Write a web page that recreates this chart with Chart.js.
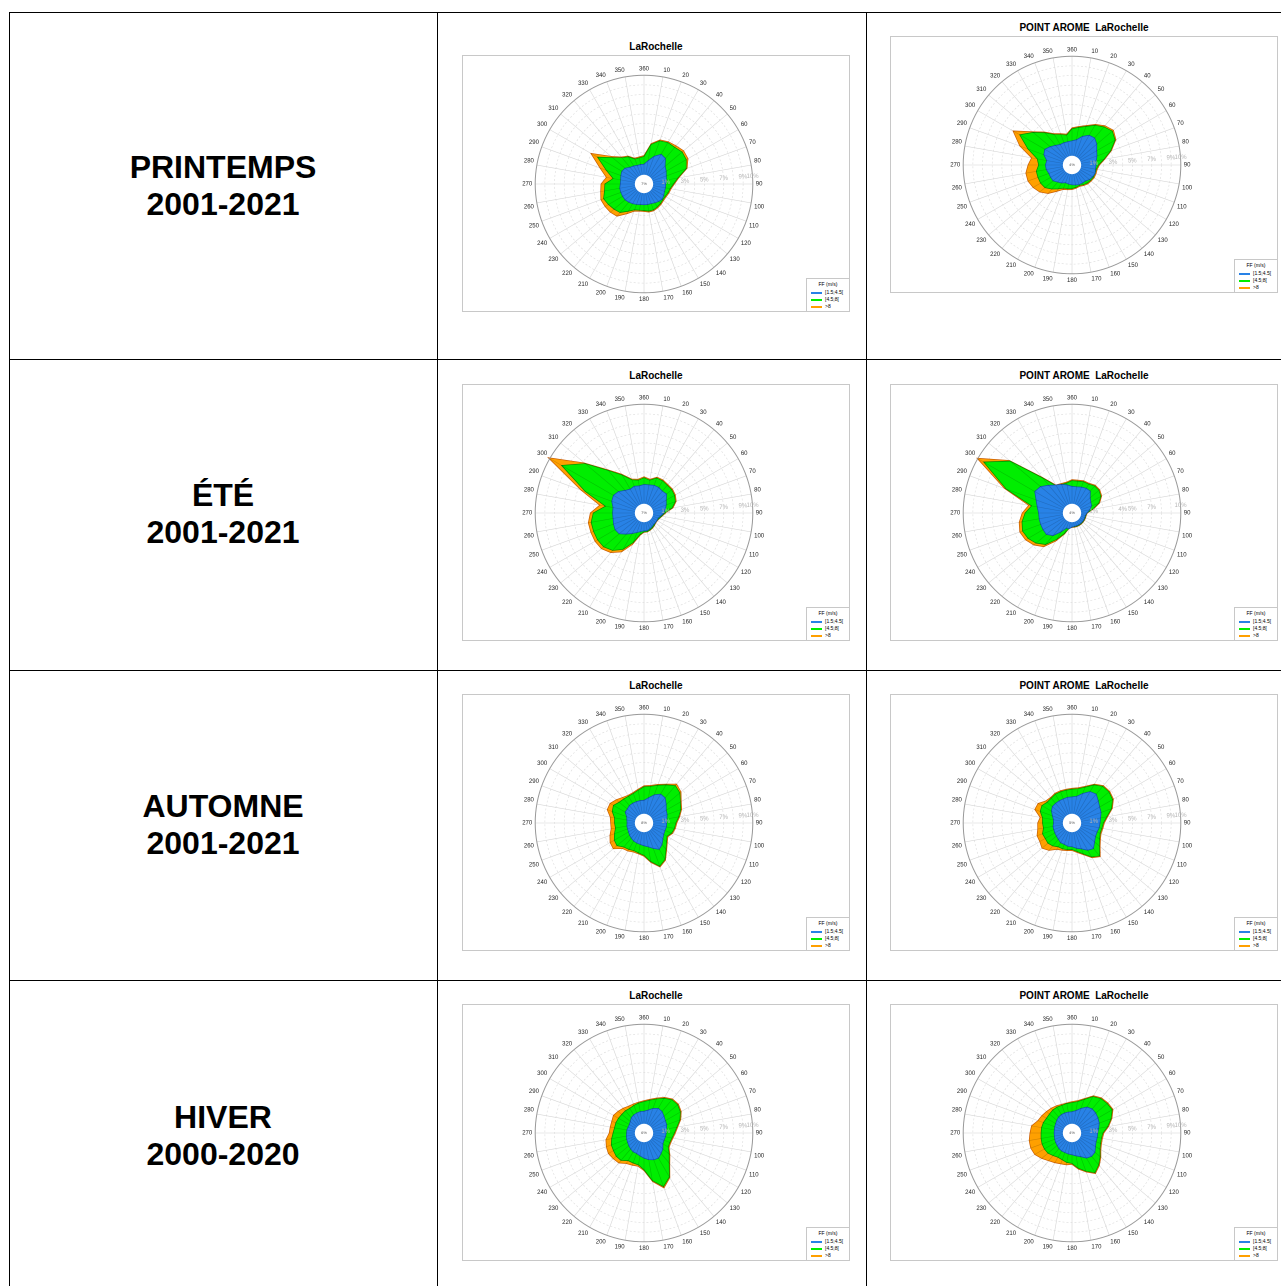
<!DOCTYPE html>
<html>
<head>
<meta charset="utf-8">
<script src="https://cdn.jsdelivr.net/npm/chart.js@4.4.1/dist/chart.umd.min.js"></script>
<style>
  body { margin:0; background:#fff; font-family:"Liberation Sans", Arial, sans-serif; width:1281px; height:1286px; overflow:hidden; position:relative; }
  .line { position:absolute; background:#000; }
  .season { position:absolute; left:9px; width:428px; text-align:center; font-weight:bold; font-size:32px; line-height:37px; }
  .title { position:absolute; width:388px; text-align:center; font-weight:bold; font-size:10px; white-space:pre; }
  .box { position:absolute; width:386px; height:255px; border:1px solid #c8c8c8; }
  .box canvas { position:absolute; left:0; top:0; }
  .legend { position:absolute; right:0; bottom:0; width:42px; height:32px; border:1px solid #c8c8c8; border-right:none; border-bottom:none; font-size:5px; background:#fff; }
  .legend .hd { text-align:center; margin-top:2px; margin-bottom:2px; }
  .legend .it { height:7px; line-height:7px; padding-left:4px; }
  .legend .it span { display:inline-block; width:11px; height:2px; vertical-align:middle; margin-right:3px; }
</style>
</head>
<body>
<script>
// directions 0..350 every 10 deg, values are cumulative frequencies (%)
const directions = [];
for (let d = 0; d < 360; d += 10) directions.push(d == 0 ? '360' : String(d));

// printemps - station
const printempsObsBlue = [0.8,1.2,1.8,2.3,2.2,1.6,1.4,1.2,1.1,1.0,1.0,1.0,1.1,1.2,1.1,1.0,0.9,0.9,0.9,0.9,1.0,1.1,1.2,1.3,1.3,1.3,1.3,1.2,1.2,1.3,1.4,1.3,1.0,0.9,0.8,0.8];
const printempsObsGreen = [1.6,2.9,3.5,3.7,3.7,3.9,3.8,3.4,2.3,1.8,1.5,1.4,1.3,1.3,1.4,1.5,1.6,1.6,1.5,1.5,1.6,2.0,2.6,2.8,3.0,3.2,2.9,2.8,2.0,2.9,4.3,3.0,2.3,2.0,1.5,1.5];
const printempsObsOrange = [1.7,3.0,3.6,3.8,3.9,4.1,4.0,3.5,2.4,1.9,1.6,1.5,1.4,1.4,1.5,1.6,1.7,1.7,1.6,1.6,1.75,2.3,3.1,3.3,3.4,3.5,3.3,3.2,2.7,3.6,5.1,3.2,2.4,2.1,1.6,1.6];
// printemps - AROME
const printempsModBlue = [1.25,1.4,1.9,2.3,2.4,2.1,1.7,1.5,1.3,1.25,1.2,1.3,1.2,1.1,0.9,0.9,0.9,0.85,0.8,0.75,0.7,0.9,1.05,1.3,1.3,1.3,1.45,1.5,1.4,1.85,2.0,1.7,1.4,1.2,1.2,1.2];
const printempsModGreen = [2.5,2.7,3.0,3.5,3.9,4.2,3.9,3.0,2.1,1.5,1.3,1.3,1.3,1.25,1.2,1.1,1.0,1.1,1.2,1.25,1.3,1.6,2.0,2.4,2.5,2.5,2.5,2.2,2.4,3.6,5.0,4.0,3.1,2.4,2.1,1.9];
const printempsModOrange = [2.6,2.8,3.1,3.6,4.05,4.35,4.0,3.1,2.2,1.6,1.4,1.4,1.4,1.35,1.3,1.2,1.1,1.2,1.3,1.35,1.45,1.9,2.6,3.1,3.4,3.6,3.6,3.3,3.0,4.5,5.8,4.1,3.2,2.5,2.2,2.0];
// ete - station
const eteObsBlue = [1.7,1.7,1.8,1.8,1.7,1.8,1.4,1.2,1.0,0.8,0.5,0.3,0.3,0.3,0.3,0.4,0.5,0.6,0.6,0.7,0.9,1.2,1.6,2.1,2.2,2.1,2.0,2.0,2.0,2.3,2.4,2.2,1.8,1.6,1.7,1.6];
const eteObsGreen = [2.4,2.2,2.6,2.6,2.5,2.5,2.4,2.2,1.7,0.9,0.6,0.4,0.3,0.3,0.4,0.5,0.6,0.7,0.7,1.0,2.0,3.1,3.8,4.2,4.3,4.3,4.3,4.0,2.8,5.2,8.6,6.7,4.5,3.3,2.4,2.2];
const eteObsOrange = [2.5,2.3,2.7,2.7,2.6,2.6,2.5,2.3,1.8,1.0,0.65,0.45,0.35,0.35,0.45,0.55,0.65,0.75,0.75,1.1,2.2,3.4,4.1,4.5,4.6,4.6,4.6,4.3,3.4,5.7,10.2,6.8,4.6,3.4,2.5,2.3];
// ete - AROME
const eteModBlue = [1.5,1.5,1.6,1.7,1.7,1.2,1.0,0.9,0.6,0.3,0.15,0.15,0.15,0.15,0.15,0.15,0.15,0.15,0.2,0.4,0.4,1.0,1.8,2.2,2.2,2.2,2.2,2.2,2.4,2.7,3.2,3.0,2.5,2.1,1.9,1.7];
const eteModGreen = [2.1,2.1,2.2,2.2,2.4,2.4,2.2,1.7,0.9,0.3,0.2,0.2,0.2,0.2,0.2,0.2,0.2,0.2,0.2,0.3,1.0,1.9,3.0,3.6,4.0,4.2,4.0,3.6,3.0,6.0,9.3,7.1,3.5,2.0,1.9,1.9];
const eteModOrange = [2.2,2.2,2.3,2.3,2.5,2.5,2.3,1.8,1.0,0.35,0.25,0.25,0.25,0.25,0.25,0.25,0.25,0.25,0.25,0.35,1.1,2.1,3.3,3.9,4.3,4.5,4.3,3.9,3.3,6.2,10.1,7.2,3.6,2.1,2.0,2.0];
// automne - station
const automneObsBlue = [1.1,1.4,1.85,2.2,2.15,1.75,1.4,1.3,1.15,1.1,1.1,1.05,1.1,1.3,1.65,1.9,1.55,1.25,1.1,1.0,0.95,0.9,0.8,0.7,0.6,0.55,0.55,0.5,0.55,0.65,1.0,1.0,1.1,1.1,1.1,1.1];
const automneObsGreen = [2.5,2.6,2.9,3.3,3.8,3.6,3.1,2.8,2.4,2.05,1.95,1.8,1.5,1.8,2.3,3.1,3.5,2.8,2.1,1.9,1.8,1.9,2.0,2.4,2.3,2.0,1.75,1.8,1.85,2.25,2.4,2.1,2.0,1.95,2.0,2.2];
const automneObsOrange = [2.6,2.7,3.0,3.4,4.0,3.75,3.2,2.9,2.5,2.15,2.05,1.9,1.6,1.9,2.4,3.2,3.6,2.9,2.2,2.0,1.95,2.1,2.2,2.9,2.8,2.5,2.2,2.2,2.3,2.8,2.8,2.5,2.2,2.05,2.1,2.3];
// automne - AROME
const automneModBlue = [1.45,1.55,2.0,2.5,2.65,2.3,2.05,1.95,1.75,1.65,1.6,1.5,1.55,1.8,2.2,2.0,1.6,1.4,1.2,1.2,1.1,1.1,0.95,0.85,0.8,0.75,0.75,0.65,0.7,0.9,1.2,1.4,1.4,1.4,1.4,1.45];
const automneModGreen = [2.25,2.35,2.7,3.3,3.7,3.75,3.6,3.1,2.4,2.0,1.9,1.85,2.05,2.45,3.2,2.8,2.15,1.75,1.5,1.55,1.6,1.6,1.85,2.0,1.95,2.0,1.75,1.8,1.85,2.25,2.35,2.1,2.1,2.2,2.2,2.2];
const automneModOrange = [2.35,2.45,2.8,3.4,3.8,3.85,3.7,3.2,2.5,2.1,2.0,1.95,2.15,2.55,3.3,2.9,2.25,1.85,1.6,1.65,1.75,1.9,2.45,2.8,2.6,2.6,2.35,2.3,2.1,2.85,2.8,2.3,2.2,2.3,2.3,2.3];
// hiver - station
const hiverObsBlue = [1.0,1.15,1.45,1.7,1.65,1.45,1.3,1.25,1.1,1.05,1.0,0.95,1.0,1.3,1.5,1.75,1.7,1.55,1.35,1.15,1.0,1.0,0.9,0.8,0.7,0.65,0.6,0.55,0.55,0.5,0.5,0.6,0.8,0.9,0.95,1.0];
const hiverObsGreen = [2.0,2.2,2.5,2.9,3.25,3.3,3.1,2.7,2.2,1.9,1.7,1.6,1.65,2.15,2.8,4.0,4.65,3.75,2.55,2.1,2.05,2.05,2.45,2.5,2.4,2.35,2.15,1.95,1.85,1.85,1.8,1.75,1.75,1.7,1.8,1.9];
const hiverObsOrange = [2.1,2.3,2.6,3.0,3.35,3.4,3.2,2.8,2.3,2.0,1.8,1.7,1.75,2.25,2.9,4.1,4.8,3.85,2.65,2.25,2.3,2.4,2.8,2.9,3.0,2.9,2.75,2.35,2.3,2.3,2.4,2.25,2.1,1.95,1.95,2.0];
// hiver - AROME
const hiverModBlue = [0.95,1.1,1.45,1.85,2.0,1.95,1.85,1.75,1.55,1.4,1.4,1.4,1.55,1.85,1.9,1.75,1.35,1.15,1.0,0.95,0.9,0.9,0.85,0.75,0.7,0.65,0.6,0.6,0.6,0.65,0.7,0.8,0.9,0.95,0.95,0.95];
const hiverModGreen = [1.9,2.05,2.45,3.1,3.4,3.5,3.55,3.05,2.5,1.95,1.85,1.9,2.1,2.55,3.05,3.5,2.95,2.45,1.9,1.85,1.7,1.65,1.8,2.0,2.05,2.05,2.0,1.95,1.95,1.9,1.8,1.8,1.85,1.85,1.8,1.85];
const hiverModOrange = [2.0,2.15,2.55,3.2,3.5,3.6,3.65,3.15,2.6,2.05,1.95,2.0,2.2,2.65,3.15,3.6,3.05,2.55,2.0,2.1,2.15,2.3,2.5,2.85,3.2,3.3,3.25,3.1,3.0,2.5,2.35,2.2,2.1,2.0,1.9,1.9];

const seasons = ['PRINTEMPS', 'ÉTÉ', 'AUTOMNE', 'HIVER'];
const periods = ['2001-2021', '2001-2021', '2001-2021', '2000-2020'];
const ringLabels = [1, 3, 5, 7, 9, 10];
const ringLabelsEteMod = [1, 4, 5, 7, 10];
const legendLabels = ['[1.5;4.5[', '[4.5;8[', '>8'];

const charts = [
  {id:'c1', title:'LaRochelle', x:462, y:55, d:[printempsObsBlue, printempsObsGreen, printempsObsOrange], hole:'7%', rings:ringLabels},
  {id:'c2', title:'POINT AROME  LaRochelle', x:890, y:36, d:[printempsModBlue, printempsModGreen, printempsModOrange], hole:'4%', rings:ringLabels},
  {id:'c3', title:'LaRochelle', x:462, y:384, d:[eteObsBlue, eteObsGreen, eteObsOrange], hole:'7%', rings:ringLabels},
  {id:'c4', title:'POINT AROME  LaRochelle', x:890, y:384, d:[eteModBlue, eteModGreen, eteModOrange], hole:'4%', rings:ringLabelsEteMod},
  {id:'c5', title:'LaRochelle', x:462, y:694, d:[automneObsBlue, automneObsGreen, automneObsOrange], hole:'8%', rings:ringLabels},
  {id:'c6', title:'POINT AROME  LaRochelle', x:890, y:694, d:[automneModBlue, automneModGreen, automneModOrange], hole:'5%', rings:ringLabels},
  {id:'c7', title:'LaRochelle', x:462, y:1004, d:[hiverObsBlue, hiverObsGreen, hiverObsOrange], hole:'6%', rings:ringLabels},
  {id:'c8', title:'POINT AROME  LaRochelle', x:890, y:1004, d:[hiverModBlue, hiverModGreen, hiverModOrange], hole:'4%', rings:ringLabels}
];

const fillColors = ['rgb(40,130,230)', 'rgb(0,238,0)', 'rgb(255,160,0)'];
const lineColors = ['rgb(20,80,170)', 'rgb(0,140,0)', 'rgb(200,90,0)'];

// table frame
function addLine(l, t, w, h){
  let d = document.createElement('div');
  d.className = 'line';
  d.style.cssText = `left:${l}px;top:${t}px;width:${w}px;height:${h}px`;
  document.body.appendChild(d);
}
[12, 359, 670, 980].forEach(y => addLine(9, y, 1272, 1));
[9, 437, 866].forEach(x => addLine(x, 12, 1, 1274));

const rowMid = [186, 514, 825, 1136];
seasons.forEach((s, i) => {
  let d = document.createElement('div');
  d.className = 'season';
  d.style.top = (rowMid[i] - 37) + 'px';
  d.innerHTML = s + '<br>' + periods[i];
  document.body.appendChild(d);
});

// plugin drawing the hole, the spokes over the fills, the outer circle and the % labels
const rosePlugin = {
  id: 'rose',
  afterDatasetsDraw(chart, args, opts){
    const ctx = chart.ctx;
    const sc = chart.scales.r;
    const cx = sc.xCenter, cy = sc.yCenter;
    const outer = chart.data.datasets[2].data;
    ctx.save();
    ctx.strokeStyle = 'rgba(0,0,0,0.18)';
    ctx.lineWidth = 0.6;
    for (let i = 0; i < outer.length; i++){
      let p = sc.getPointPositionForValue(i, outer[i]);
      ctx.beginPath(); ctx.moveTo(cx, cy); ctx.lineTo(p.x, p.y); ctx.stroke();
    }
    ctx.strokeStyle = '#999';
    ctx.lineWidth = 1;
    ctx.beginPath(); ctx.arc(cx, cy, sc.getDistanceFromCenterForValue(10), 0, Math.PI * 2); ctx.stroke();
    let hr = sc.getDistanceFromCenterForValue(-0.3);
    ctx.fillStyle = '#fff';
    ctx.beginPath(); ctx.arc(cx, cy, hr, 0, Math.PI * 2); ctx.fill();
    ctx.fillStyle = '#555';
    ctx.font = '4px "Liberation Sans"';
    ctx.textAlign = 'center'; ctx.textBaseline = 'middle';
    ctx.fillText(opts.hole, cx, cy);
    ctx.fillStyle = '#b4b4b4';
    ctx.font = '6px "Liberation Sans"';
    opts.rings.forEach(v => {
      let p = sc.getPointPositionForValue(8.6, v);
      ctx.fillText(v + '%', p.x, p.y);
    });
    ctx.restore();
  }
};

charts.forEach(c => {
  let t = document.createElement('div');
  t.className = 'title';
  t.style.left = c.x + 'px';
  t.style.top = (c.y - 14) + 'px';
  t.textContent = c.title;
  document.body.appendChild(t);

  let box = document.createElement('div');
  box.className = 'box';
  box.style.left = c.x + 'px';
  box.style.top = c.y + 'px';
  box.innerHTML = `<canvas id="${c.id}"></canvas>
    <div class="legend"><div class="hd">FF (m/s)</div>
    ${legendLabels.map((l, i) => `<div class="it"><span style="background:${fillColors[i]}"></span>${l}</div>`).join('')}</div>`;
  document.body.appendChild(box);

  let cv = document.getElementById(c.id);
  cv.style.width = '362px'; cv.style.height = '256px';

  new Chart(cv.getContext('2d'), {
    type: 'radar',
    data: {
      labels: directions,
      datasets: c.d.map((vals, i) => ({
        data: vals,
        backgroundColor: fillColors[i],
        borderColor: lineColors[i],
        borderWidth: 0.7,
        pointRadius: 0,
        fill: 'start'
      }))
    },
    options: {
      responsive: false,
      animation: false,
      devicePixelRatio: 2,
      layout: { padding: 9 },
      plugins: { legend: { display: false }, tooltip: { enabled: false }, rose: { hole: c.hole, rings: c.rings } },
      scales: {
        r: {
          min: -1.25, max: 10,
          ticks: { display: false, stepSize: 1 },
          grid: { color: '#dcdcdc', lineWidth: 0.6, circular: true },
          border: { dash: [2, 2] },
          angleLines: { color: '#d6d6d6', lineWidth: 0.6 },
          pointLabels: { font: { size: 6, family: 'Liberation Sans' }, color: '#222', padding: 3 }
        }
      }
    },
    plugins: [rosePlugin]
  });
});
</script>
</body>
</html>
